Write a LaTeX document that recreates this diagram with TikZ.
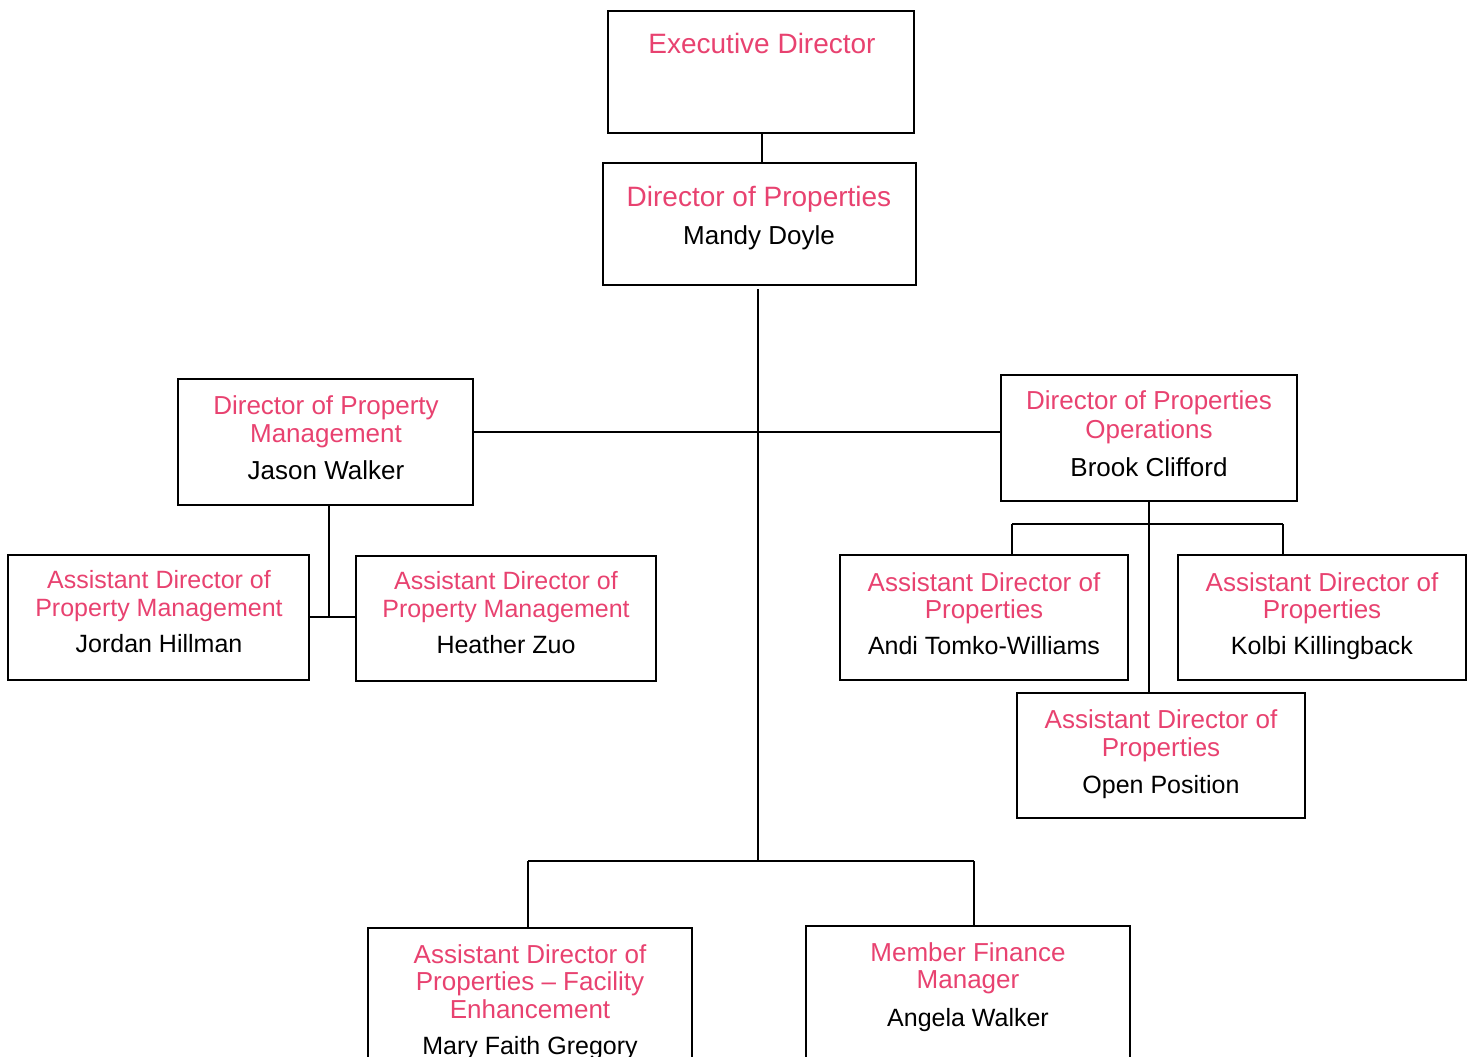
\documentclass[tikz,border=0pt]{standalone}
\usepackage{fontspec}
\setmainfont{Liberation Sans}
\definecolor{pinktxt}{RGB}{232,66,112}
\begin{document}
\begin{tikzpicture}[x=1pt,y=-1pt,
  box/.style={draw=black,line width=2.6pt,inner sep=0pt},
  conn/.style={draw=black,line width=2pt},
  pk/.style={text=pinktxt,anchor=base,inner sep=0pt,font=\fontsize{#1}{#1}\selectfont},
  nm/.style={text=black,anchor=base,inner sep=0pt,font=\fontsize{#1}{#1}\selectfont}]
\useasboundingbox (0,0) rectangle (1470,1057);
% boxes
\node[box,minimum width=306pt,minimum height=122pt] (exec) at (761,72) {};
\node[box,minimum width=313pt,minimum height=122pt] (dprop) at (759.5,224) {};
\node[box,minimum width=295pt,minimum height=126pt] (dpm) at (325.5,442) {};
\node[box,minimum width=296pt,minimum height=126pt] (dpo) at (1149,438) {};
\node[box,minimum width=301pt,minimum height=125pt] (jordan) at (158.5,617.5) {};
\node[box,minimum width=300pt,minimum height=125pt] (heather) at (506,618.5) {};
\node[box,minimum width=288pt,minimum height=125pt] (andi) at (984,617.5) {};
\node[box,minimum width=288pt,minimum height=125pt] (kolbi) at (1322,617.5) {};
\node[box,minimum width=288pt,minimum height=125pt] (open) at (1161,755.5) {};
\node[box,minimum width=324pt,minimum height=160pt] (adpfe) at (530,1008) {};
\node[box,minimum width=324pt,minimum height=160pt] (mfm) at (968,1006) {};
% texts
\node[pk=28] (t1) at (762,54) {Executive Director};
\node[pk=28] (t2) at (759,206) {Director of Properties};
\node[nm=26] (t3) at (759,244) {Mandy Doyle};
\node[pk=26] (t4) at (326,414) {Director of Property};
\node[pk=26] (t5) at (326,442) {Management};
\node[nm=26] (t6) at (326,479) {Jason Walker};
\node[pk=26] (t7) at (1149,409) {Director of Properties};
\node[pk=26] (t8) at (1149,438) {Operations};
\node[nm=26] (t9) at (1149,476) {Brook Clifford};
\node[pk=25] (t10) at (159,588) {Assistant Director of};
\node[pk=25] (t11) at (159,616) {Property Management};
\node[nm=25] (t12) at (159,652) {Jordan Hillman};
\node[pk=25] (t13) at (506,589) {Assistant Director of};
\node[pk=25] (t14) at (506,617) {Property Management};
\node[nm=25] (t15) at (506,653) {Heather Zuo};
\node[pk=26] (t16) at (984,591) {Assistant Director of};
\node[pk=26] (t17) at (984,618) {Properties};
\node[nm=25] (t18) at (984,654) {Andi Tomko-Williams};
\node[pk=26] (t19) at (1322,591) {Assistant Director of};
\node[pk=26] (t20) at (1322,618) {Properties};
\node[nm=25] (t21) at (1322,654) {Kolbi Killingback};
\node[pk=26] (t22) at (1161,728) {Assistant Director of};
\node[pk=26] (t23) at (1161,756) {Properties};
\node[nm=25] (t24) at (1161,793) {Open Position};
\node[pk=26] (t25) at (530,963) {Assistant Director of};
\node[pk=26] (t26) at (530,990) {Properties – Facility};
\node[pk=26] (t27) at (530,1018) {Enhancement};
\node[nm=25] (t28) at (530,1054) {Mary Faith Gregory};
\node[pk=26] (t29) at (968,961) {Member Finance};
\node[pk=26] (t30) at (968,988) {Manager};
\node[nm=25] (t31) at (968,1026) {Angela Walker};
% connectors
\coordinate (mtop) at (758,289);
\coordinate (mx) at (758,432);
\coordinate (mbot) at (758,861);
\coordinate (bl) at (528,861);
\coordinate (br) at (974,861);
\coordinate (pmj) at (329,617);
\coordinate (ol) at (1012,524);
\coordinate (or) at (1283,524);
\draw[conn] (exec.south -| 762,0) -- (dprop.north -| 762,0);
\draw[conn] (mtop) -- (mbot);
\draw[conn] (dpm.east |- mx) -- (dpo.west |- mx);
\draw[conn] (bl) -- (br);
\draw[conn] (bl) -- (adpfe.north -| bl);
\draw[conn] (br) -- (mfm.north -| br);
\draw[conn] (dpm.south -| pmj) -- (pmj);
\draw[conn] (jordan.east |- pmj) -- (heather.west |- pmj);
\draw[conn] (dpo.south) -- (open.north -| dpo.south);
\draw[conn] (ol) -- (or);
\draw[conn] (ol) -- (andi.north -| ol);
\draw[conn] (or) -- (kolbi.north -| or);
\end{tikzpicture}
\end{document}
